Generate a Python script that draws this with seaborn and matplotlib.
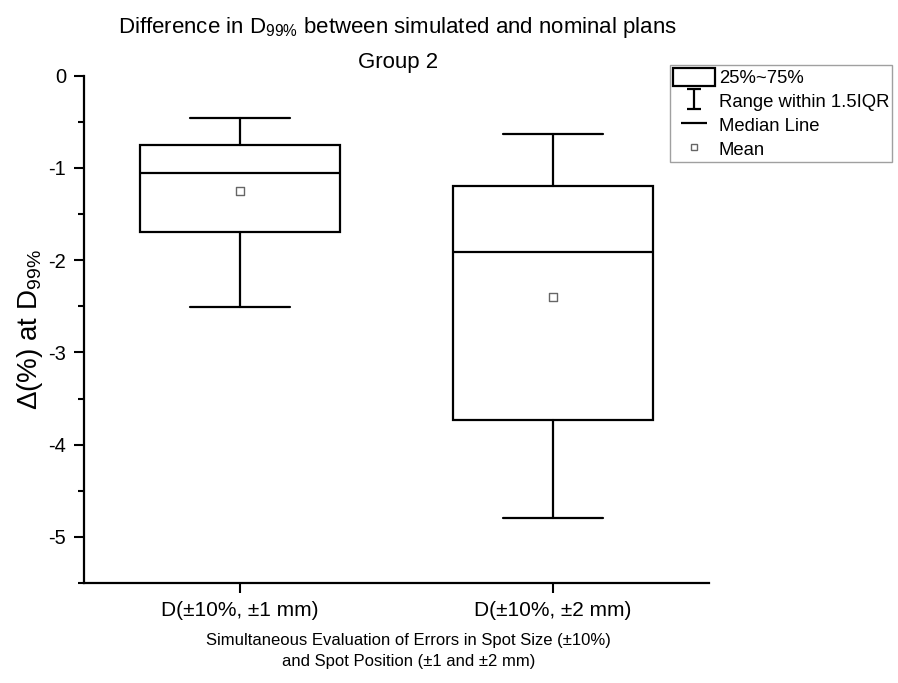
import numpy as np
import pandas as pd
import seaborn as sns
import matplotlib
matplotlib.use("Agg")
import matplotlib.pyplot as plt
from matplotlib.patches import Patch
from matplotlib.lines import Line2D
from matplotlib.path import Path
from matplotlib.ticker import MultipleLocator

# ---- data ----
categories = ["D(\u00b110%, \u00b11 mm)", "D(\u00b110%, \u00b12 mm)"]
whisker_low = [-2.51, -4.79]
q1 = [-1.70, -3.73]
median = [-1.05, -1.91]
q3 = [-0.75, -1.20]
whisker_high = [-0.46, -0.63]
mean = [-1.25, -2.40]
y_ticks = [0, -1, -2, -3, -4, -5]

sns.set_theme(style="ticks")
plt.rcParams["font.family"] = ["Liberation Sans", "DejaVu Sans"]
plt.rcParams["mathtext.fontset"] = "custom"
plt.rcParams["mathtext.rm"] = "Liberation Sans"
plt.rcParams["mathtext.it"] = "Liberation Sans:italic"
plt.rcParams["mathtext.bf"] = "Liberation Sans:bold"
plt.rcParams["axes.unicode_minus"] = False
for k in ["text.color", "axes.labelcolor", "xtick.color", "ytick.color", "axes.edgecolor"]:
    plt.rcParams[k] = "black"

fig = plt.figure(figsize=(8.98, 6.83), dpi=100)
ax = fig.add_axes([0.0935, 0.1464, 0.696, 0.7428])

stats = []
for i, c in enumerate(categories):
    stats.append(dict(label=c, whislo=whisker_low[i], q1=q1[i], med=median[i],
                      q3=q3[i], whishi=whisker_high[i], mean=mean[i], fliers=[]))
pos = np.arange(len(categories))
lw = 1.6
ax.bxp(stats, positions=pos, widths=0.64, showmeans=False, showfliers=False,
       patch_artist=True,
       boxprops=dict(facecolor="white", edgecolor="black", linewidth=lw),
       medianprops=dict(color="black", linewidth=lw),
       whiskerprops=dict(color="black", linewidth=lw),
       capprops=dict(color="black", linewidth=lw))

df = pd.DataFrame({"x": pos, "mean": mean})
sns.scatterplot(data=df, x="x", y="mean", ax=ax, marker="s", s=28,
                facecolor="white", edgecolor="#666666", linewidth=1.0, zorder=5,
                legend=False)

ax.set_xlim(-0.5, len(categories) - 0.5)
ax.set_ylim(-5.5, 0)
ax.set_xticks(pos)
ax.set_xticklabels(categories, fontsize=15)
ax.set_yticks(y_ticks)
ax.set_yticklabels([str(t) for t in y_ticks], fontsize=14.5)
ax.yaxis.set_minor_locator(MultipleLocator(0.5))
ax.tick_params(axis="both", which="major", direction="out", length=7, width=1.5,
               color="black", pad=6)
ax.tick_params(axis="y", which="minor", direction="out", length=4, width=1.5,
               color="black")
ax.set_xlabel("")
ax.set_ylabel("\u0394(%) at D$_{\\mathrm{99\\%}}$", fontsize=20)
ax.yaxis.set_label_coords(-0.062, 0.5)
for s in ["top", "right"]:
    ax.spines[s].set_visible(False)
for s in ["left", "bottom"]:
    ax.spines[s].set_linewidth(1.6)
    ax.spines[s].set_color("black")

fig.text(0.443, 0.960, "Difference in D$_{\\mathrm{99\\%}}$ between simulated and nominal plans",
         ha="center", va="center", fontsize=16)
fig.text(0.443, 0.909, "Group 2", ha="center", va="center", fontsize=16)
fig.text(0.455, 0.0615, "Simultaneous Evaluation of Errors in Spot Size (\u00b110%)",
         ha="center", va="center", fontsize=12)
fig.text(0.455, 0.032, "and Spot Position (\u00b11 and \u00b12 mm)",
         ha="center", va="center", fontsize=12)

# legend
ibar = Path([(-0.75, 1), (0.75, 1), (0, 1), (0, -1), (-0.75, -1), (0.75, -1)],
            [Path.MOVETO, Path.LINETO, Path.MOVETO, Path.LINETO, Path.MOVETO, Path.LINETO])
handles = [
    Patch(facecolor="white", edgecolor="black", linewidth=1.6),
    Line2D([], [], linestyle="none", marker=ibar, markersize=14, color="black",
           markeredgewidth=1.6, markerfacecolor="none"),
    Line2D([], [], linestyle="none", marker="_", markersize=19, color="black",
           markeredgewidth=1.6),
    Line2D([], [], linestyle="none", marker="s", markersize=5, markerfacecolor="white",
           markeredgecolor="#666666", markeredgewidth=1.0),
]
labels = ["25%~75%", "Range within 1.5IQR", "Median Line", "Mean"]
leg = fig.legend(handles, labels, loc="upper left", bbox_to_anchor=(0.746, 0.905),
                 fontsize=13.3, frameon=True, fancybox=False, edgecolor="#888888",
                 handlelength=2.3, handleheight=1.15, handletextpad=0.2,
                 labelspacing=0.25, borderpad=0.15, borderaxespad=0)
leg.get_frame().set_linewidth(1.0)

fig.savefig("out.png", dpi=100)
